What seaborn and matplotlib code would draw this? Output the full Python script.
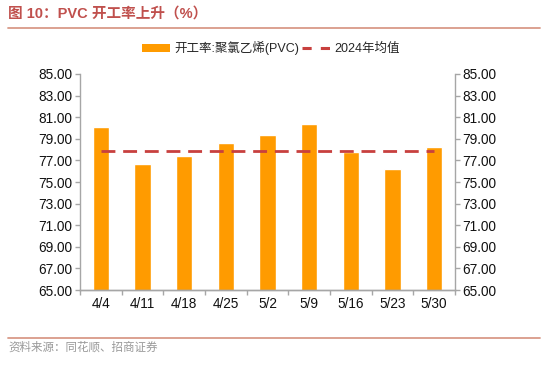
import matplotlib
matplotlib.use("Agg")
import matplotlib.pyplot as plt
import seaborn as sns
import numpy as np
import pandas as pd
from matplotlib.lines import Line2D
from matplotlib.patches import Patch

dates = ["4/4", "4/11", "4/18", "4/25", "5/2", "5/9", "5/16", "5/23", "5/30"]
rate = [80.05, 76.7, 77.38, 78.65, 79.38, 80.35, 77.75, 76.2, 78.22]
avg_2024 = 77.9
yticks = [65, 67, 69, 71, 73, 75, 77, 79, 81, 83, 85]

title_text = "图 10：PVC 开工率上升（%）"
bar_label = "开工率:聚氯乙烯(PVC)"
line_label = "2024年均值"
source_text = "资料来源：同花顺、招商证券"

sns.set_theme(style="white")
plt.rcParams['font.family'] = ['Liberation Sans', 'Noto Sans CJK SC', 'DejaVu Sans']

BAR = "#FF9B00"
RED = "#C8403E"
SPINE = "#A6A6A6"

fig = plt.figure(figsize=(5.5, 3.83), dpi=100)
ax = fig.add_axes([80/550, 1-290/383, 375/550, 216/383])

df = pd.DataFrame({"date": dates, "rate": rate})
sns.barplot(data=df, x="date", y="rate", color=BAR, width=0.39, ax=ax,
            saturation=1, zorder=2)
ax.plot([0, len(dates)-1], [avg_2024]*2, color=RED, lw=2.0,
        linestyle=(0, (5, 2.8)), zorder=3)

ax.set_ylim(65, 85)
ax.set_xlim(-0.5, len(dates)-0.5)
ax.set_yticks(yticks)
ax.set_yticklabels([f"{v:.2f}" for v in yticks])
ax.set_xlabel("")
ax.set_ylabel("")

ax2 = ax.twinx()
ax2.set_ylim(65, 85)
ax2.set_yticks(yticks)
ax2.set_yticklabels([f"{v:.2f}" for v in yticks])

for a in (ax, ax2):
    for s in a.spines.values():
        s.set_color(SPINE)
        s.set_linewidth(1.0)
    a.spines["top"].set_visible(False)
    a.tick_params(axis="y", colors=SPINE, labelcolor="#111111", labelsize=9.8,
                  length=3.5, width=1.0, pad=2, direction="out")
    a.grid(False)
ax.spines["right"].set_visible(False)
ax2.spines["left"].set_visible(False)
ax.tick_params(axis="y", left=True)
ax2.tick_params(axis="y", right=True)

ax.set_xticks(np.arange(len(dates)))
ax.set_xticklabels(dates)
ax.tick_params(axis="x", which="major", length=0, labelsize=9.8,
               labelcolor="#111111", pad=5)
ax.set_xticks(np.arange(len(dates)+1) - 0.5, minor=True)
ax.tick_params(axis="x", which="minor", length=3.5, width=1.0,
               color=SPINE, direction="out", bottom=True)

handles = [Patch(facecolor=BAR, edgecolor="none"),
           Line2D([0], [0], color=RED, lw=2.2, linestyle=(0, (3, 3)))]
fig.legend(handles, [bar_label, line_label], loc="center",
           bbox_to_anchor=(0.493, 1-48/383), ncol=2, frameon=False,
           fontsize=9, handlelength=2.2, handleheight=0.6,
           columnspacing=0.2, handletextpad=0.4)

fig.text(8/550, 1-14/383, title_text, fontsize=10.5, fontweight="bold",
         color="#C0504D", va="center", ha="left")
fig.add_artist(Line2D([8/550, 540/550], [1-28/383]*2, color="#D99A88", lw=1.3))
fig.add_artist(Line2D([8/550, 540/550], [1-338/383]*2, color="#D99A88", lw=1.3))
fig.text(8/550, 1-348/383, source_text, fontsize=8.3, color="#999999",
         va="center", ha="left")

fig.savefig("out.png", dpi=100)
